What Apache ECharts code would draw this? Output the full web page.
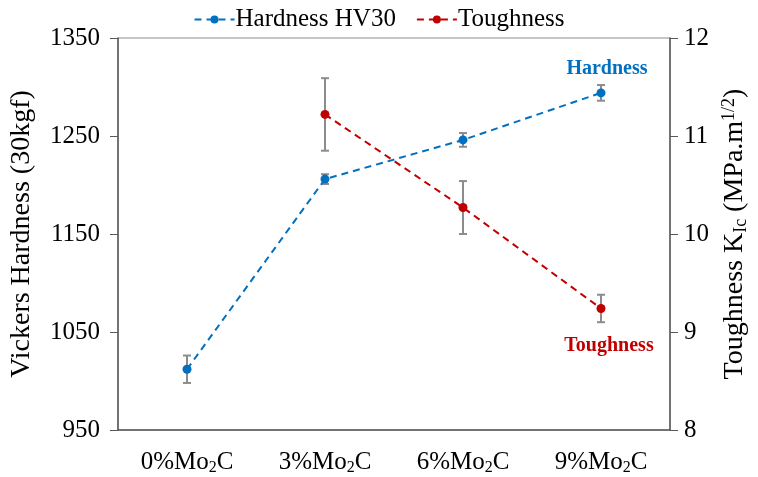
<!DOCTYPE html>
<html><head><meta charset="utf-8">
<script src="https://cdn.jsdelivr.net/npm/echarts@6/dist/echarts.min.js"></script>
<style>html,body{margin:0;padding:0;background:#fff}#c{width:758px;height:477px}</style>
</head><body><div id="c"></div>
<script>
const categories = ['0%Mo{s|2}C', '3%Mo{s|2}C', '6%Mo{s|2}C', '9%Mo{s|2}C'];
const hardness = [1012, 1206, 1246, 1294];
const hardnessErr = [14, 5, 7, 8];
const toughness = [null, 11.22, 10.27, 9.24];
const toughnessErr = [null, 0.37, 0.27, 0.14];
const leftTicks = [950, 1050, 1150, 1250, 1350];
const rightTicks = [8, 9, 10, 11, 12];

const FONT = 'Liberation Serif';
const BLUE = '#0070C0', RED = '#C00000', AX = '#595959';

function errData(vals, errs) {
  const out = [];
  vals.forEach((v, i) => { if (v != null) out.push([i, v - errs[i], v + errs[i]]); });
  return out;
}
function errRender(params, api) {
  const x = api.value(0);
  const lo = api.coord([x, api.value(1)]);
  const hi = api.coord([x, api.value(2)]);
  const w = 4;
  const st = { stroke: '#8c8c8c', lineWidth: 2 };
  return { type: 'group', children: [
    { type: 'line', shape: { x1: lo[0], y1: lo[1], x2: hi[0], y2: hi[1] }, style: st },
    { type: 'line', shape: { x1: lo[0] - w, y1: lo[1], x2: lo[0] + w, y2: lo[1] }, style: st },
    { type: 'line', shape: { x1: hi[0] - w, y1: hi[1], x2: hi[0] + w, y2: hi[1] }, style: st }
  ]};
}
const last = 3;
const hData = hardness.map((v, i) => i === last ? { value: v, label: { show: true, position: 'top', distance: 10, offset: [6, 0], formatter: 'Hardness', color: BLUE, fontWeight: 'bold', fontSize: 20, fontFamily: FONT } } : v);
const tData = toughness.map((v, i) => i === last ? { value: v, label: { show: true, position: 'bottom', distance: 23, offset: [8, 0], formatter: 'Toughness', color: RED, fontWeight: 'bold', fontSize: 20, fontFamily: FONT } } : v);

const chart = echarts.init(document.getElementById('c'));
chart.setOption({
  animation: false,
  textStyle: { fontFamily: FONT },
  legend: {
    data: ['Hardness HV30', 'Toughness'], top: 2, left: 'center',
    itemWidth: 40, itemHeight: 10, itemGap: 20,
    textStyle: { fontFamily: FONT, fontSize: 25, color: '#000', padding: [0, 0, 0, -4] }
  },
  grid: { left: 118, right: 83, top: 38, bottom: 47, show: true, borderColor: '#8c8c8c', borderWidth: 1 },
  xAxis: {
    type: 'category', data: categories, boundaryGap: true,
    axisLine: { lineStyle: { color: AX, width: 1.5 } },
    axisTick: { show: false },
    axisLabel: { interval: 0, hideOverlap: false, margin: 18, fontSize: 25, color: '#000', fontFamily: FONT,
      formatter: v => v,
      rich: { s: { fontSize: 16, verticalAlign: 'bottom', padding: [12, 0, 0, 0], fontFamily: FONT, color: '#000' } } }
  },
  yAxis: [
    { type: 'value', min: 950, max: 1350, position: 'left',
      name: 'Vickers Hardness (30kgf)', nameLocation: 'middle', nameGap: 82, nameRotate: 90,
      nameTextStyle: { fontSize: 28, color: '#000', fontFamily: FONT },
      axisLine: { show: true, lineStyle: { color: AX, width: 1.5 } },
      axisTick: { show: true, length: 8, customValues: leftTicks, lineStyle: { color: AX } },
      axisLabel: { customValues: leftTicks, formatter: v => String(v), fontSize: 25, color: '#000', fontFamily: FONT, margin: 18 },
      splitLine: { show: false } },
    { type: 'value', min: 8, max: 12, interval: 1, position: 'right',
      name: 'Toughness K{s|Ic} (MPa.m{p|1/2})', nameLocation: 'middle', nameGap: 50, nameRotate: 90,
      nameTextStyle: { fontSize: 28, color: '#000', fontFamily: FONT,
        rich: { s: { fontSize: 18, verticalAlign: 'bottom', padding: [12, 0, 0, 0], fontFamily: FONT, color: '#000' },
                p: { fontSize: 18, verticalAlign: 'top', padding: [0, 0, 12, 0], fontFamily: FONT, color: '#000' } } },
      axisLine: { show: true, lineStyle: { color: AX, width: 1.5 } },
      axisTick: { show: true, length: 8, customValues: rightTicks, lineStyle: { color: AX } },
      axisLabel: { customValues: rightTicks, fontSize: 25, color: '#000', fontFamily: FONT, margin: 14 },
      splitLine: { show: false } }
  ],
  series: [
    { type: 'custom', name: 'hErr', yAxisIndex: 0, data: errData(hardness, hardnessErr), renderItem: errRender, encode: { x: 0, y: [1, 2] }, z: 1 },
    { type: 'custom', name: 'tErr', yAxisIndex: 1, data: errData(toughness, toughnessErr), renderItem: errRender, encode: { x: 0, y: [1, 2] }, z: 1 },
    { type: 'line', name: 'Hardness HV30', yAxisIndex: 0, data: hData, z: 3,
      symbol: 'circle', symbolSize: 9, itemStyle: { color: BLUE },
      lineStyle: { color: BLUE, width: 2, type: [7, 5] } },
    { type: 'line', name: 'Toughness', yAxisIndex: 1, data: tData, z: 3,
      symbol: 'circle', symbolSize: 9, itemStyle: { color: RED },
      lineStyle: { color: RED, width: 2, type: [7, 5] } }
  ]
});
</script></body></html>
